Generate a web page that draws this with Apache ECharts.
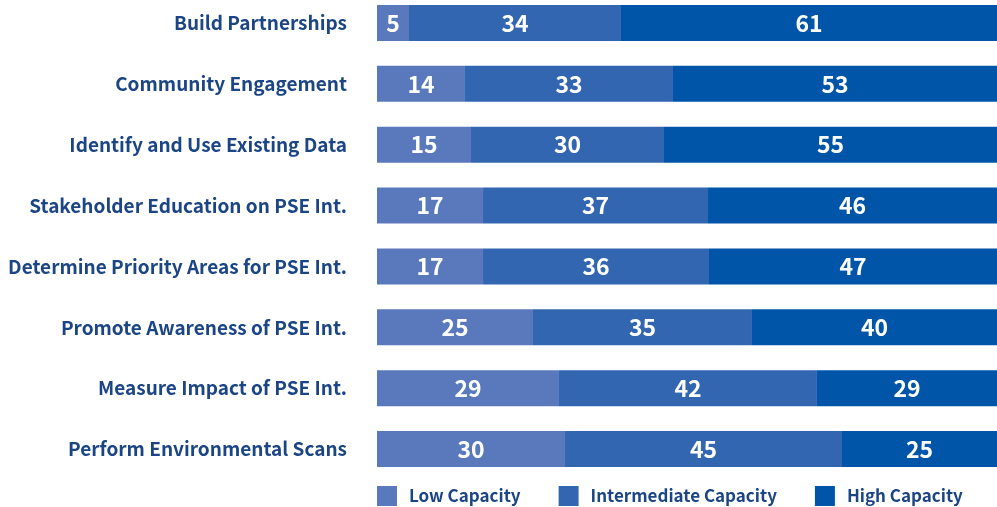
<!DOCTYPE html>
<html>
<head>
<meta charset="utf-8">
<script src="https://cdn.jsdelivr.net/npm/echarts@6/dist/echarts.min.js"></script>
<style>
  html, body { margin: 0; padding: 0; background: #fff; }
  #chart { width: 997px; height: 507px; }
</style>
</head>
<body>
<div id="chart"></div>
<script>
// 类别
const categories = [
  'Build Partnerships',
  'Community Engagement',
  'Identify and Use Existing Data',
  'Stakeholder Education on PSE Int.',
  'Determine Priority Areas for PSE Int.',
  'Promote Awareness of PSE Int.',
  'Measure Impact of PSE Int.',
  'Perform Environmental Scans'
]
// 条形长度（从图上量出的份额）
const lowCapacity = [5.16, 14.19, 15.16, 17.1, 17.1, 25.16, 29.35, 30.32]
const intermediateCapacity = [34.19, 33.55, 31.13, 36.29, 36.45, 35.32, 41.61, 44.68]
const highCapacity = [60.65, 52.26, 53.71, 46.61, 46.45, 39.52, 29.04, 25.0]
// 条形上印出的数字
const lowLabels = [5, 14, 15, 17, 17, 25, 29, 30]
const intermediateLabels = [34, 33, 30, 37, 36, 35, 42, 45]
const highLabels = [61, 53, 55, 46, 47, 40, 29, 25]

const seriesNames = ['Low Capacity', 'Intermediate Capacity', 'High Capacity']
const colors = ['#5a79bd', '#3366b0', '#0055a8']
const font = '"Noto Sans CJK SC", "Noto Sans", sans-serif'

const myChart = echarts.init(document.getElementById('chart'))

function makeSeries(name, data, labels, color) {
  return {
    name: name,
    type: 'bar',
    stack: 'total',
    barWidth: 36,
    itemStyle: { color: color },
    label: {
      show: true,
      position: 'inside',
      color: '#fff',
      fontFamily: font,
      fontWeight: 'bold',
      fontSize: 23,
      formatter: function (params) {
        return String(labels[params.dataIndex])
      }
    },
    data: data
  }
}

myChart.setOption({
  animation: false,
  color: colors,
  grid: {
    left: 377,
    right: 0,
    top: 23,
    height: 426,
    containLabel: false
  },
  legend: {
    left: 377,
    top: 486,
    padding: 0,
    itemWidth: 20,
    itemHeight: 20,
    itemGap: 38,
    icon: 'rect',
    textStyle: {
      color: '#1b4585',
      fontFamily: font,
      fontWeight: 'bold',
      fontSize: 17,
      padding: [0, 0, 0, 7]
    },
    data: seriesNames
  },
  xAxis: {
    type: 'value',
    show: false,
    min: 0,
    max: 100
  },
  yAxis: {
    type: 'category',
    inverse: true,
    boundaryGap: false,
    data: categories,
    axisLine: { show: false },
    axisTick: { show: false },
    splitLine: { show: false },
    axisLabel: {
      margin: 30,
      color: '#1b4585',
      fontFamily: font,
      fontWeight: 'bold',
      fontSize: 19
    }
  },
  series: [
    makeSeries(seriesNames[0], lowCapacity, lowLabels, colors[0]),
    makeSeries(seriesNames[1], intermediateCapacity, intermediateLabels, colors[1]),
    makeSeries(seriesNames[2], highCapacity, highLabels, colors[2])
  ]
})
</script>
</body>
</html>
